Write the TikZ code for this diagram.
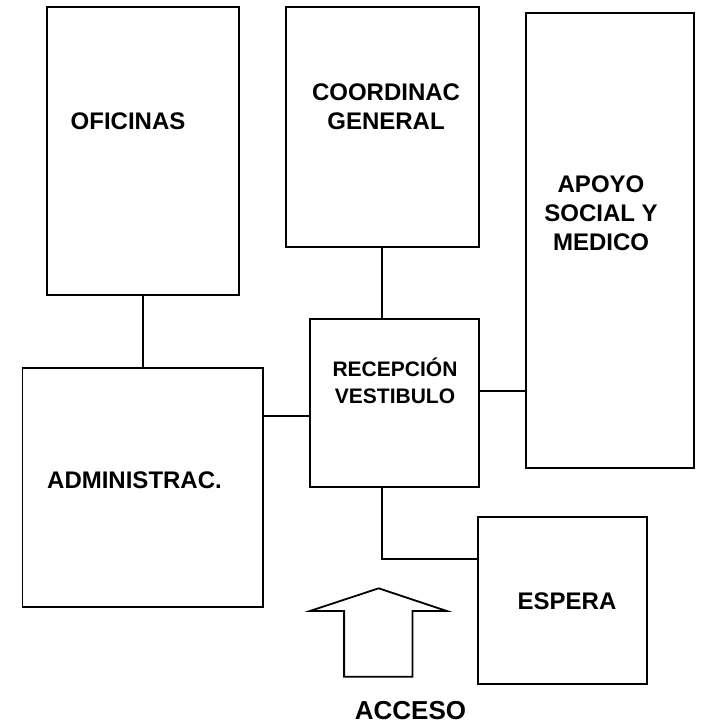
\documentclass[tikz,border=0pt]{standalone}
\usepackage{fontspec}
\setmainfont{Liberation Sans}
\usetikzlibrary{positioning,calc}
\tikzstyle{RoomNode} =[draw,rectangle,line width=1.8pt,inner sep=0pt]
\tikzstyle{RoomLabel} =[font=\bfseries\fontsize{24}{29}\selectfont,align=center,inner sep=0pt]
\tikzstyle{HallLabel} =[font=\bfseries\fontsize{21}{26.5}\selectfont,align=center,inner sep=0pt]
\tikzstyle{AccessLabel} =[font=\bfseries\fontsize{26}{30}\selectfont,inner sep=0pt]
\tikzstyle{RoomLink} =[-,line width=1.8pt]

\begin{document}
\begin{tikzpicture}[x=1pt,y=-1pt]
    \useasboundingbox (0,0) rectangle (702,727);

    \node[RoomNode,minimum width=192pt,minimum height=288pt](Oficinas-Room) at (142.7,151.3){};
    \node[RoomNode,minimum width=192.7pt,minimum height=240pt](Coordinac-Room) at (382.3,127.3){};
    \node[RoomNode,minimum width=168pt,minimum height=455.3pt](Apoyo-Room) at (610.3,240.3){};
    \node[RoomNode,minimum width=168.7pt,minimum height=168pt](Recepcion-Room) at (394.7,403.3){};
    \node[RoomNode,minimum width=240.4pt,minimum height=239.6pt](Administrac-Room) at (142.7,487.5){};
    \node[RoomNode,minimum width=168.4pt,minimum height=167.3pt](Espera-Room) at (562.5,600.7){};

    \node[RoomLabel](Oficinas-Label) at (128,121){OFICINAS};
    \node[RoomLabel](Coordinac-Label) at (386,107){COORDINAC\\ GENERAL};
    \node[RoomLabel](Apoyo-Label) at (601,213){APOYO\\ SOCIAL Y\\ MEDICO};
    \node[HallLabel](Recepcion-Label) at (395,381){RECEPCIÓN\\ VESTIBULO};
    \node[RoomLabel](Administrac-Label) at (134.5,480.7){ADMINISTRAC.};
    \node[RoomLabel](Espera-Label) at (567,601.7){ESPERA};
    \node[AccessLabel](Acceso-Label) at (410.5,711){ACCESO};

    \coordinate (Hall-West) at ([yshift=-12.4pt]Recepcion-Room.west);
    \coordinate (Hall-East) at ([yshift=12pt]Recepcion-Room.east);
    \coordinate (Espera-Door) at ([yshift=41.4pt]Espera-Room.west);

    \draw[RoomLink] (Oficinas-Room.south) -- (Administrac-Room.north);
    \draw[RoomLink] (Coordinac-Room.south) -- (Coordinac-Room.south |- Recepcion-Room.north);
    \draw[RoomLink] (Hall-West) -- (Hall-West -| Administrac-Room.east);
    \draw[RoomLink] (Hall-East) -- (Hall-East -| Apoyo-Room.west);
    \draw[RoomLink] (Coordinac-Room.south |- Recepcion-Room.south) |- (Espera-Door);

    % entrance arrow
    \coordinate (Acceso-Tip) at (378.7,588.3);
    \draw[line width=1.8pt,line join=miter] (Acceso-Tip) -- ++(68,22.7) -- ++(-34.2,0) -- ++(0,65.7) -- ++(-68.4,0) -- ++(0,-65.7) -- ++(-34.2,0) -- cycle;
\end{tikzpicture}
\end{document}
